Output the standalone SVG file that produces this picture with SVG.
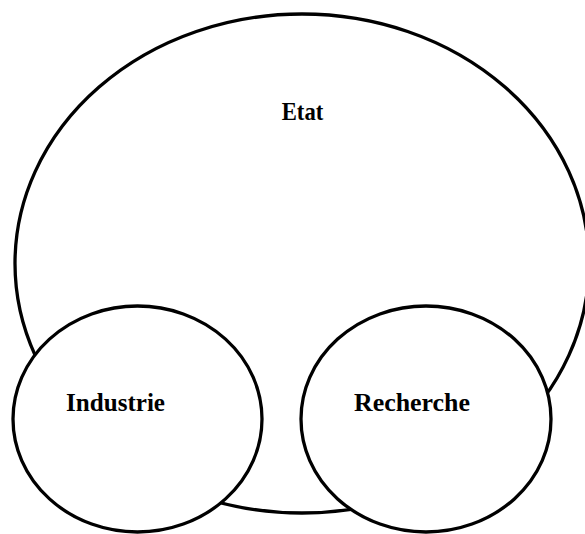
<svg xmlns="http://www.w3.org/2000/svg" width="585" height="534" viewBox="0 0 585 534">
<style>
.shape{fill:#fff;stroke:#000;stroke-width:3.3}
.lbl{font-family:"Liberation Serif","Times New Roman",serif;font-weight:bold;font-size:26px;fill:#000}
</style>
<rect x="0" y="0" width="585" height="534" fill="#fff"/>
<g id="etat">
<ellipse class="shape" cx="302" cy="263.5" rx="287" ry="249.5"/>
<text class="lbl" x="281.7" y="120" textLength="41.6" lengthAdjust="spacingAndGlyphs">Etat</text>
</g>
<g id="industrie">
<ellipse class="shape" cx="137.5" cy="419" rx="124.5" ry="113"/>
<text class="lbl" x="66" y="410.5" textLength="99" lengthAdjust="spacingAndGlyphs">Industrie</text>
</g>
<g id="recherche">
<ellipse class="shape" cx="426" cy="419" rx="125" ry="113"/>
<text class="lbl" x="354" y="410.5" textLength="116" lengthAdjust="spacingAndGlyphs">Recherche</text>
</g>
<g id="connectors"/>
</svg>
